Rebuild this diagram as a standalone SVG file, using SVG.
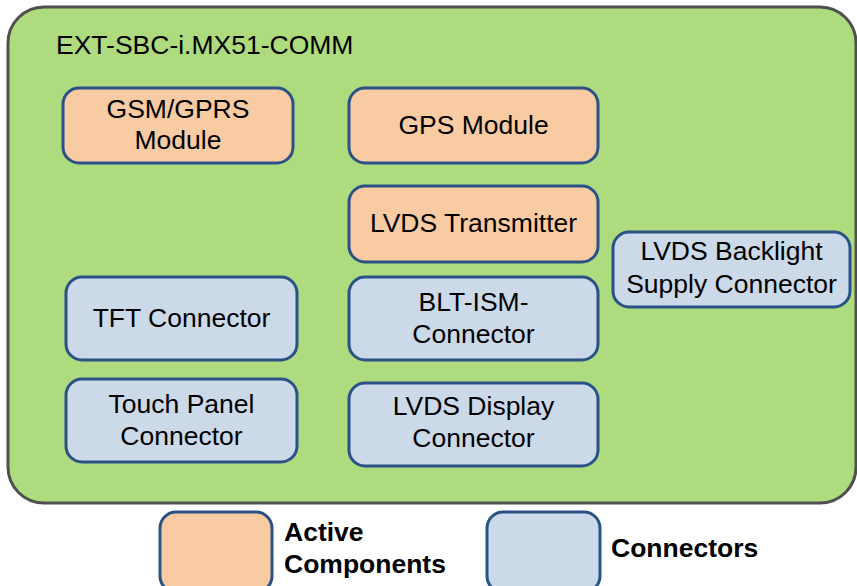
<svg xmlns="http://www.w3.org/2000/svg" width="857" height="586" viewBox="0 0 857 586">
<style>
.t{font-family:"Liberation Sans",Arial,sans-serif;font-size:26.5px;fill:#000;text-anchor:middle}
.b{font-family:"Liberation Sans",Arial,sans-serif;font-size:26.5px;font-weight:bold;fill:#000}
.n{font-family:"Liberation Sans",Arial,sans-serif;font-size:26.5px;fill:#000}
.a{fill:#f9cba2;stroke:#2a5287;stroke-width:3}
.c{fill:#cbd9e8;stroke:#2a5287;stroke-width:3}
</style>
<rect x="0" y="0" width="857" height="586" fill="#fff"/>
<g id="board">
<rect x="8" y="7" width="848" height="496" rx="36" fill="#aedb7e" stroke="#505050" stroke-width="3"/>
<text x="56" y="54" class="n">EXT-SBC-i.MX51-COMM</text>
</g>
<g id="gsm"><rect class="a" x="63" y="88" width="230" height="75" rx="16"/><text class="t" x="178" y="118">GSM/GPRS</text><text class="t" x="178" y="149">Module</text></g>
<g id="gps"><rect class="a" x="349" y="88" width="249" height="75" rx="16"/><text class="t" x="473.5" y="134">GPS Module</text></g>
<g id="lvdstx"><rect class="a" x="349" y="186" width="249" height="76" rx="16"/><text class="t" x="473.5" y="232">LVDS Transmitter</text></g>
<g id="backlight"><rect class="c" x="613" y="232" width="237" height="75" rx="16"/><text class="t" x="731.5" y="260">LVDS Backlight</text><text class="t" x="731.5" y="293">Supply Connector</text></g>
<g id="tft"><rect class="c" x="66" y="277" width="231" height="83" rx="16"/><text class="t" x="181.5" y="327">TFT Connector</text></g>
<g id="bltism"><rect class="c" x="349" y="277" width="249" height="83" rx="16"/><text class="t" x="473.5" y="311">BLT-ISM-</text><text class="t" x="473.5" y="343">Connector</text></g>
<g id="touch"><rect class="c" x="66" y="379" width="231" height="83" rx="16"/><text class="t" x="181.5" y="413">Touch Panel</text><text class="t" x="181.5" y="445">Connector</text></g>
<g id="lvdsdisp"><rect class="c" x="349" y="383" width="249" height="83" rx="16"/><text class="t" x="473.5" y="415">LVDS Display</text><text class="t" x="473.5" y="447">Connector</text></g>
<g id="legend-active"><rect class="a" x="160" y="512" width="112" height="80" rx="16"/><text class="b" x="284" y="541">Active</text><text class="b" x="284" y="573">Components</text></g>
<g id="legend-conn"><rect class="c" x="487" y="512" width="113" height="80" rx="16"/><text class="b" x="611" y="557">Connectors</text></g>
<g id="connectors"></g>
</svg>
